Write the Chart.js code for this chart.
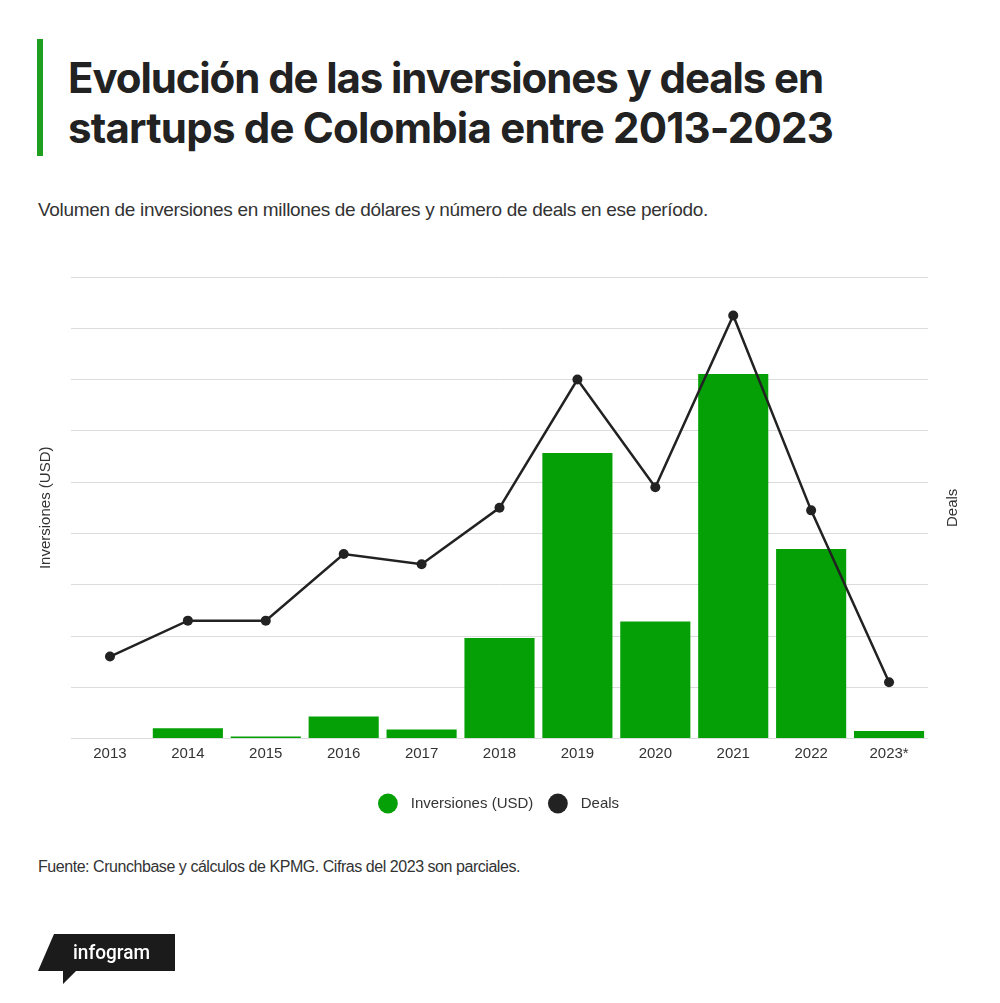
<!DOCTYPE html>
<html lang="es">
<head>
  <meta charset="UTF-8">
  <title>Evolución de las inversiones y deals en startups de Colombia</title>
  <script src="https://cdn.jsdelivr.net/npm/chart.js"></script>
  <style>
    html, body { margin: 0; padding: 0; background: #fff; }
    body { width: 1000px; height: 1003px; position: relative; overflow: hidden; font-family: "Liberation Sans", Arial, sans-serif; color: #2b2b2b; }
    .bar { position: absolute; left: 37px; top: 39px; width: 6px; height: 117px; background: #1f9e1f; }
    .title { position: absolute; left: 68px; top: 52.7px; margin: 0; font-family: Inter, sans-serif; font-weight: 700; font-size: 42px; line-height: 50px; color: #222; white-space: nowrap; }
    .title span { display: inline-block; }
    .sub { position: absolute; left: 38px; top: 199.6px; font-size: 19px; line-height: 19px; color: #333; white-space: nowrap; }
    .src { position: absolute; left: 38px; top: 858.8px; font-size: 16px; line-height: 16px; color: #333; white-space: nowrap; }
    #wrap { position: absolute; left: 0; top: 0; width: 1000px; height: 821px; }
    .logo { position: absolute; left: 0; top: 0; }
  </style>
</head>
<body>
  <div class="bar"></div>
  <h1 class="title"><span class="fit" data-w="755">Evolución de las inversiones y deals en</span><br><span class="fit" data-w="765">startups de Colombia entre 2013-2023</span></h1>
  <div class="sub"><span class="fit" data-w="670">Volumen de inversiones en millones de dólares y número de deals en ese período.</span></div>

  <div id="wrap"><canvas id="chart"></canvas></div>

  <div class="src"><span class="fit" data-w="482">Fuente: Crunchbase y cálculos de KPMG. Cifras del 2023 son parciales.</span></div>

  <svg class="logo" width="200" height="1003" viewBox="0 0 200 1003">
    <polygon points="54,934 175,934 175,971 76,971 63,984 63,971 38,971" fill="#1b1b1b"/>
    <text x="73" y="959" fill="#fff" font-family="Roboto, sans-serif" font-weight="500" font-size="21" textLength="77" lengthAdjust="spacingAndGlyphs">infogram</text>
  </svg>

  <script>
    // chart data
    const years = ['2013', '2014', '2015', '2016', '2017', '2018', '2019', '2020', '2021', '2022', '2023*'];
    const inversiones = [0, 40, 8, 86, 35, 392, 1114, 457, 1422, 739, 30];   // millones USD
    const deals = [32, 46, 46, 72, 68, 90, 140, 98, 165, 89, 22];

    const green = '#05a005';
    const dark = '#222222';

    // squeeze/stretch text so it lines up with the reference widths
    document.querySelectorAll('.fit').forEach(el => {
      const target = parseFloat(el.dataset.w);
      el.style.display = 'inline-block';
      const w = el.getBoundingClientRect().width;
      const n = el.textContent.length;
      el.style.letterSpacing = ((target - w) / n).toFixed(3) + 'px';
    });

    const textFont = { family: "'Liberation Sans', Arial, sans-serif", size: 15 };

    // right axis title reads bottom-to-top in the original, chart.js turns it the other way
    const dealsTitle = {
      id: 'dealsTitle',
      afterDraw(chart) {
        const s = chart.scales.y1;
        const ctx = chart.ctx;
        ctx.save();
        ctx.translate(953, (s.top + s.bottom) / 2);
        ctx.rotate(-Math.PI / 2);
        ctx.font = "15px 'Liberation Sans', Arial, sans-serif";
        ctx.fillStyle = '#333';
        ctx.textAlign = 'center';
        ctx.textBaseline = 'middle';
        ctx.fillText('Deals', 0, 0);
        ctx.restore();
      }
    };

    new Chart(document.getElementById('chart'), {
      data: {
        labels: years,
        datasets: [
          {
            type: 'bar',
            label: 'Inversiones (USD)',
            data: inversiones,
            backgroundColor: green,
            borderWidth: 0,
            yAxisID: 'y',
            order: 1,
            categoryPercentage: 1,
            barPercentage: 0.9
          },
          {
            type: 'line',
            label: 'Deals',
            data: deals,
            borderColor: dark,
            backgroundColor: dark,
            borderWidth: 2.5,
            pointRadius: 5,
            pointBackgroundColor: dark,
            pointBorderWidth: 0,
            tension: 0,
            yAxisID: 'y1',
            order: 0
          }
        ]
      },
      options: {
        responsive: true,
        maintainAspectRatio: false,
        animation: false,
        layout: { padding: { top: 277, left: 0, right: 0, bottom: 0 } },
        plugins: {
          tooltip: { enabled: false },
          legend: {
            position: 'bottom',
            labels: {
              usePointStyle: true,
              pointStyle: 'circle',
              boxWidth: 14,
              boxHeight: 14,
              padding: 17.6,
              color: '#333',
              font: textFont,
              sort: (a, b) => a.datasetIndex - b.datasetIndex,
              generateLabels: chart => {
                const items = Chart.defaults.plugins.legend.labels.generateLabels(chart);
                items.forEach(it => { it.text = '  ' + it.text; });
                return items;
              }
            }
          }
        },
        scales: {
          x: {
            grid: { display: false },
            border: { display: false },
            ticks: { color: '#333', font: textFont, padding: -2, maxRotation: 0 },
            afterFit: s => { s.height = 39.8; }
          },
          y: {
            position: 'left',
            min: 0,
            max: 1800,
            ticks: { display: false, stepSize: 200 },
            grid: { color: '#dcdcdc', lineWidth: 1, drawTicks: false },
            border: { display: false },
            title: { display: true, text: 'Inversiones (USD)', color: '#333', font: textFont, padding: { top: 37, bottom: 0 } },
            afterFit: s => { s.width = 71; }
          },
          y1: {
            position: 'right',
            min: 0,
            max: 180,
            ticks: { display: false, stepSize: 20 },
            grid: { drawOnChartArea: false, drawTicks: false },
            border: { display: false },
            title: { display: false, text: 'Deals' },
            afterFit: s => { s.width = 72; }
          }
        }
      },
      plugins: [dealsTitle]
    });
  </script>
</body>
</html>
